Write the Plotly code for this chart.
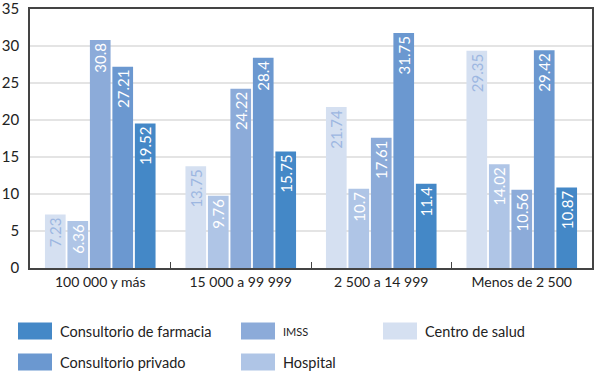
import plotly.graph_objects as go

categories = ["100 000 y más", "15 000 a 99 999", "2 500 a 14 999", "Menos de 2 500"]

centro_de_salud = [7.23, 13.75, 21.74, 29.35]
hospital = [6.36, 9.76, 10.7, 14.02]
imss = [30.8, 24.22, 17.61, 10.56]
consultorio_privado = [27.21, 28.4, 31.75, 29.42]
consultorio_farmacia = [19.52, 15.75, 11.4, 10.87]

series_names = ["Centro de salud", "Hospital", "IMSS", "Consultorio privado", "Consultorio de farmacia"]
series_values = [centro_de_salud, hospital, imss, consultorio_privado, consultorio_farmacia]
colors = ["#d5e0f1", "#afc5e6", "#8cabd9", "#6b98d0", "#4488c7"]
text_colors = ["#9db7e1", "white", "white", "white", "white"]

y_ticks = [0, 5, 10, 15, 20, 25, 30, 35]

FONT = "Lato"

fig = go.Figure()
for name, vals, col, tcol in zip(series_names, series_values, colors, text_colors):
    fig.add_trace(go.Bar(
        name=name, x=categories, y=vals,
        marker=dict(color=col, line=dict(width=0)),
        text=[str(v) for v in vals],
        textposition="inside", insidetextanchor="end", textangle=-90,
        textfont=dict(color=tcol, size=15, family=FONT),
        constraintext="none",
        showlegend=False,
    ))

# plot area in pixels
L, R, T, B = 30, 592, 9, 268
PW, PH = R - L, B - T

# custom legend (3 columns x 2 rows, column-major order)
legend_order = ["Consultorio de farmacia", "Consultorio privado", "IMSS", "Hospital", "Centro de salud"]
col_x = [18, 241, 383]
row_y = [331, 362]
W, H = 596, 374
for i, nm in enumerate(legend_order):
    c, r = divmod(i, 2)
    idx = series_names.index(nm)
    x0 = col_x[c]
    yc = row_y[r]
    fig.add_shape(type="rect", xref="paper", yref="paper",
                  x0=(x0 - L) / PW, x1=(x0 + 34 - L) / PW,
                  y0=(B - (yc + 8.5)) / PH, y1=(B - (yc - 8.5)) / PH,
                  fillcolor=colors[idx], line=dict(width=0))
    size = 11 if nm == "IMSS" else 14.5
    fig.add_annotation(xref="paper", yref="paper",
                       x=(x0 + 40 - L) / PW, y=(B - yc) / PH,
                       text=nm, showarrow=False, xanchor="left", yanchor="middle",
                       font=dict(size=size, color="#222", family=FONT))

fig.update_layout(
    width=W, height=H,
    margin=dict(l=L, r=W - R, t=T, b=H - B, autoexpand=False),
    barmode="group", bargap=0.2, bargroupgap=0.08,
    plot_bgcolor="white", paper_bgcolor="white",
    font=dict(family=FONT, size=14, color="#222"),
    showlegend=False,
)
fig.update_xaxes(
    automargin=False,
    showline=True, linecolor="#444", linewidth=1.5, mirror=True,
    ticks="inside", tickson="boundaries", ticklen=6, tickcolor="#444",
    tickfont=dict(size=14, family=FONT, color="#222"),
    showgrid=False,
)
fig.update_yaxes(
    automargin=False,
    range=[0, 35], tickvals=y_ticks, showgrid=True, gridcolor="#e4e4e4", gridwidth=1.5,
    showline=True, linecolor="#444", linewidth=1.5, mirror=True,
    tickfont=dict(size=15, family=FONT, color="#222"), zeroline=False,
    ticks="", ticklabelstandoff=6, ticklabeloverflow="allow",
)

fig.write_html("out.html", config={"displayModeBar": False},
               post_script="document.body.style.margin='0';document.body.style.overflow='hidden';")
